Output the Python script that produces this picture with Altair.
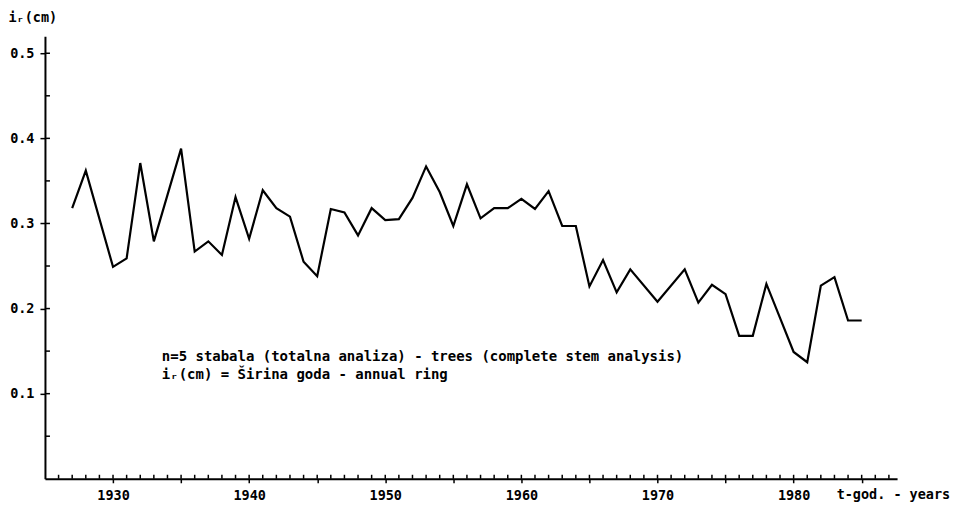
import altair as alt
import pandas as pd

# ---- data ----
years = [1927, 1928, 1930, 1931, 1932, 1933, 1935, 1936, 1937, 1938, 1939, 1940,
         1941, 1942, 1943, 1944, 1945, 1946, 1947, 1948, 1949, 1950, 1951, 1952,
         1953, 1954, 1955, 1956, 1957, 1958, 1959, 1960, 1961, 1962, 1963, 1964,
         1965, 1966, 1967, 1968, 1970, 1972, 1973, 1974, 1975, 1976, 1977, 1978,
         1979, 1980, 1981, 1982, 1983, 1984, 1985]
ring_width = [0.318, 0.362, 0.249, 0.259, 0.371, 0.279, 0.388, 0.267, 0.279, 0.263, 0.331, 0.282,
              0.339, 0.318, 0.308, 0.255, 0.238, 0.317, 0.313, 0.286, 0.318, 0.304, 0.305, 0.330,
              0.367, 0.337, 0.297, 0.346, 0.306, 0.318, 0.318, 0.329, 0.317, 0.338, 0.297, 0.297,
              0.226, 0.257, 0.219, 0.246, 0.208, 0.246, 0.207, 0.228, 0.217, 0.168, 0.168, 0.229,
              0.189, 0.149, 0.137, 0.227, 0.237, 0.186, 0.186]

y_major = [0.1, 0.2, 0.3, 0.4, 0.5]
y_minor = [0.05, 0.1, 0.15, 0.2, 0.25, 0.3, 0.35, 0.4, 0.45, 0.5]
x_major = [1930, 1935, 1940, 1945, 1950, 1955, 1960, 1965, 1970, 1975, 1980, 1985]
x_minor = list(range(1926, 1988))

note_line1 = "n=5 stabala (totalna analiza) - trees (complete stem analysis)"
note_line2 = "iᵣ(cm) = Širina goda - annual ring"
x_title = "t-god. - years"
y_title = "iᵣ(cm)"

W, H = 853, 443
FONT = "DejaVu Sans Mono"

df = pd.DataFrame({"year": years, "ir": ring_width})

xscale = alt.Scale(domain=[1925, 1987.6], nice=False, zero=False)
yscale = alt.Scale(domain=[0, 0.52], nice=False, zero=True)

x_axis = alt.Axis(values=x_major, format="d",
                  labelExpr="datum.value % 10 == 0 ? datum.label : ''",
                  title=x_title, titleX=792, titleY=16, titleAlign="left",
                  titleBaseline="middle", titleAngle=0,
                  tickSize=4, labelPadding=6)
y_axis = alt.Axis(values=y_major, format=".1f", title=y_title,
                  titleAngle=0, titleX=-37, titleY=-19, titleAlign="left",
                  titleBaseline="middle", tickSize=5, labelPadding=6)

line = alt.Chart(df).mark_line(color="black", strokeWidth=2.2, strokeJoin="miter").encode(
    x=alt.X("year:Q", scale=xscale, axis=x_axis),
    y=alt.Y("ir:Q", scale=yscale, axis=y_axis),
)

ytick_df = pd.DataFrame({"ir": y_minor})
yticks = alt.Chart(ytick_df).mark_rule(color="black", strokeWidth=1.5).encode(
    y=alt.Y("ir:Q", scale=yscale, axis=y_axis),
    x=alt.value(0), x2=alt.value(5),
)

xtick_df = pd.DataFrame({"year": x_minor})
xticks = alt.Chart(xtick_df).mark_rule(color="black", strokeWidth=1.5).encode(
    x=alt.X("year:Q", scale=xscale, axis=x_axis),
    y=alt.value(H), y2=alt.value(H - 4),
)

txt_style = dict(align="left", baseline="middle", font=FONT, fontWeight="bold",
                 fontSize=14, color="black")
note1 = alt.Chart(pd.DataFrame({"t": [note_line1]})).mark_text(**txt_style).encode(
    text="t:N", x=alt.value(117), y=alt.value(321))
note2 = alt.Chart(pd.DataFrame({"t": [note_line2]})).mark_text(**txt_style).encode(
    text="t:N", x=alt.value(117), y=alt.value(339))

chart = alt.layer(line, yticks, xticks, note1, note2).properties(
    width=W, height=H,
    autosize=alt.AutoSizeParams(type="none"),
    padding={"left": 37, "top": 28, "right": 62, "bottom": 26},
).configure_view(stroke=None).configure_axis(
    grid=False,
    domainColor="black", domainWidth=2,
    tickColor="black", tickWidth=1.5,
    labelColor="black", labelFont=FONT, labelFontWeight="bold", labelFontSize=13.5,
    titleColor="black", titleFont=FONT, titleFontWeight="bold", titleFontSize=13.5,
)

chart.save("out.html", embed_options={"renderer": "svg", "actions": False})
